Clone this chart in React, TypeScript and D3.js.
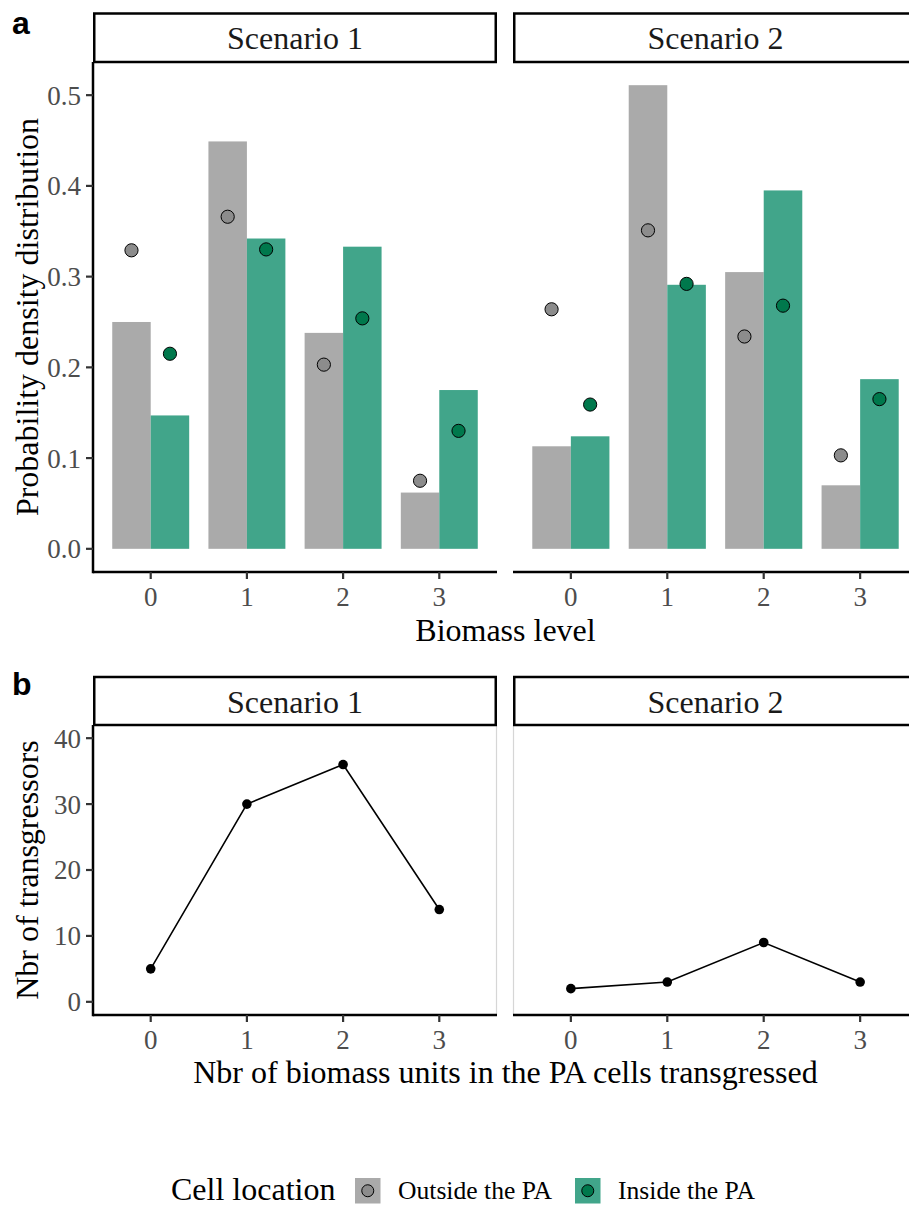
import React from 'react';
import * as d3 from 'd3';

// ---------- data ----------
const levels = [0, 1, 2, 3];
const scenarios = ['Scenario 1', 'Scenario 2'];
const legendTitle = 'Cell location';
const legendLabels = ['Outside the PA', 'Inside the PA'];

// panel a: bars (probability density) per scenario
const barOutsideS1 = [0.25, 0.449, 0.238, 0.062];
const barInsideS1 = [0.147, 0.342, 0.333, 0.175];
const barOutsideS2 = [0.113, 0.511, 0.305, 0.07];
const barInsideS2 = [0.124, 0.291, 0.395, 0.187];
// panel a: points
const ptOutsideS1 = [0.329, 0.366, 0.203, 0.075];
const ptInsideS1 = [0.215, 0.33, 0.254, 0.13];
const ptOutsideS2 = [0.264, 0.351, 0.234, 0.103];
const ptInsideS2 = [0.159, 0.292, 0.268, 0.165];
// panel b: number of transgressors
const transgS1 = [5, 30, 36, 14];
const transgS2 = [2, 3, 9, 3];

const yTicksA = [0, 0.1, 0.2, 0.3, 0.4, 0.5];
const yTicksB = [0, 10, 20, 30, 40];

const barsA = [
  { out: barOutsideS1, ins: barInsideS1, pOut: ptOutsideS1, pIns: ptInsideS1 },
  { out: barOutsideS2, ins: barInsideS2, pOut: ptOutsideS2, pIns: ptInsideS2 },
];
const linesB = [transgS1, transgS2];

// ---------- style ----------
const SERIF = '"Liberation Serif", "Times New Roman", serif';
const SANS = '"Liberation Sans", Arial, sans-serif';
const GRAY_BAR = '#AAAAAA';
const GREEN_BAR = '#41A58A';
const GRAY_PT = '#8C8C8C';
const GREEN_PT = '#00784C';
const TICK_COL = '#4D4D4D';
const TICK_FS = 27;

const W = 909;
const H = 1208;
const panelX: [number, number][] = [
  [93, 497],
  [513, 918],
];

export default function App() {
  // panel a scales
  const aTop = 62;
  const aBot = 572;
  const aStripTop = 13.5;
  const maxA = d3.max([...barOutsideS1, ...barInsideS1, ...barOutsideS2, ...barInsideS2, ...ptOutsideS1, ...ptInsideS1, ...ptOutsideS2, ...ptInsideS2]) as number;
  const padA = maxA * 0.05;
  const yA = d3.scaleLinear().domain([-padA, maxA + padA]).range([aBot, aTop]);

  // panel b scales
  const bTop = 725;
  const bBot = 1015;
  const bStripTop = 677;
  const yB = d3.scaleLinear().domain([-2, 42]).range([bBot, bTop]);

  const xScales = panelX.map((r) => d3.scaleLinear().domain([-0.6, 3.6]).range(r));
  const line = (xs: d3.ScaleLinear<number, number>) =>
    d3
      .line<number>()
      .x((_, i) => xs(levels[i]))
      .y((d) => yB(d));

  const strip = (top: number, bottom: number) =>
    scenarios.map((s, i) => {
      const [x0, x1] = panelX[i];
      return (
        <g key={'strip' + top + i}>
          <rect x={x0 + 1.25} y={top} width={x1 - x0 - 2.5} height={bottom - top} fill="#fff" stroke="#000" strokeWidth={2.5} />
          <text x={(x0 + x1) / 2} y={top + 35.5} textAnchor="middle" fontFamily={SERIF} fontSize={32} fill="#1A1A1A">
            {s}
          </text>
        </g>
      );
    });

  const xAxis = (y: number, labelY: number) =>
    xScales.map((xs, i) => (
      <g key={'xa' + y + i}>
        <line x1={panelX[i][0]} x2={panelX[i][1]} y1={y} y2={y} stroke="#000" strokeWidth={2.5} />
        {levels.map((l) => (
          <g key={l}>
            <line x1={xs(l)} x2={xs(l)} y1={y} y2={y + 7} stroke="#333" strokeWidth={2.2} />
            <text x={xs(l)} y={labelY} textAnchor="middle" fontFamily={SERIF} fontSize={TICK_FS} fill={TICK_COL}>
              {l}
            </text>
          </g>
        ))}
      </g>
    ));

  const yAxis = (ys: d3.ScaleLinear<number, number>, ticks: number[], top: number, bot: number, fmt: (v: number) => string) => (
    <g>
      <line x1={93} x2={93} y1={top} y2={bot + 1.25} stroke="#000" strokeWidth={2.5} />
      {ticks.map((t) => (
        <g key={t}>
          <line x1={86} x2={93} y1={ys(t)} y2={ys(t)} stroke="#333" strokeWidth={2.2} />
          <text x={81} y={ys(t)} dy="0.35em" textAnchor="end" fontFamily={SERIF} fontSize={TICK_FS} fill={TICK_COL}>
            {fmt(t)}
          </text>
        </g>
      ))}
    </g>
  );

  return (
    <div style={{ position: 'absolute', left: 0, top: 0 }}>
      <svg width={W} height={H} viewBox={`0 0 ${W} ${H}`} style={{ display: 'block', background: '#fff' }}>
        <rect x={0} y={0} width={W} height={H} fill="#fff" />

        {/* ---------- panel a ---------- */}
        <text x={12} y={34} fontFamily={SANS} fontWeight="bold" fontSize={32} fill="#000">
          a
        </text>
        {barsA.map((d, i) => {
          const xs = xScales[i];
          return (
            <g key={'bars' + i}>
              {levels.map((l, j) => (
                <g key={l}>
                  <rect x={xs(l - 0.4)} y={yA(d.out[j])} width={xs(l) - xs(l - 0.4)} height={yA(0) - yA(d.out[j])} fill={GRAY_BAR} />
                  <rect x={xs(l)} y={yA(d.ins[j])} width={xs(l + 0.4) - xs(l)} height={yA(0) - yA(d.ins[j])} fill={GREEN_BAR} />
                </g>
              ))}
              {levels.map((l, j) => (
                <g key={'p' + l}>
                  <circle cx={xs(l - 0.2)} cy={yA(d.pOut[j])} r={6.6} fill={GRAY_PT} stroke="#000" strokeWidth={1} />
                  <circle cx={xs(l + 0.2)} cy={yA(d.pIns[j])} r={6.6} fill={GREEN_PT} stroke="#000" strokeWidth={1} />
                </g>
              ))}
            </g>
          );
        })}
        {strip(aStripTop, aTop)}
        {yAxis(yA, yTicksA, aTop, aBot, (v) => d3.format('.1f')(v))}
        {xAxis(aBot, 606)}
        <text
          transform={`translate(38, ${(aTop + aBot) / 2}) rotate(-90)`}
          textAnchor="middle"
          fontFamily={SERIF}
          fontSize={32}
          fill="#000"
        >
          Probability density distribution
        </text>
        <text x={(panelX[0][0] + panelX[1][1]) / 2} y={641} textAnchor="middle" fontFamily={SERIF} fontSize={32} fill="#000">
          Biomass level
        </text>

        {/* ---------- panel b ---------- */}
        <text x={12} y={695} fontFamily={SANS} fontWeight="bold" fontSize={32} fill="#000">
          b
        </text>
        {/* light panel borders */}
        <line x1={panelX[0][1] - 0.5} x2={panelX[0][1] - 0.5} y1={bTop} y2={bBot} stroke="#D6D6D6" strokeWidth={1.2} />
        <line x1={panelX[1][0] + 0.5} x2={panelX[1][0] + 0.5} y1={bTop} y2={bBot} stroke="#D6D6D6" strokeWidth={1.2} />
        {linesB.map((vals, i) => {
          const xs = xScales[i];
          return (
            <g key={'line' + i}>
              <path d={line(xs)(vals) || ''} fill="none" stroke="#000" strokeWidth={1.6} />
              {vals.map((v, j) => (
                <circle key={j} cx={xs(levels[j])} cy={yB(v)} r={4.8} fill="#000" />
              ))}
            </g>
          );
        })}
        {strip(bStripTop, bTop)}
        {yAxis(yB, yTicksB, bTop, bBot, (v) => String(v))}
        {xAxis(bBot, 1049)}
        <text
          transform={`translate(38, ${(bTop + bBot) / 2}) rotate(-90)`}
          textAnchor="middle"
          fontFamily={SERIF}
          fontSize={32}
          fill="#000"
        >
          Nbr of transgressors
        </text>
        <text x={(panelX[0][0] + panelX[1][1]) / 2} y={1083} textAnchor="middle" fontFamily={SERIF} fontSize={32} fill="#000">
          Nbr of biomass units in the PA cells transgressed
        </text>

        {/* ---------- legend ---------- */}
        <text x={171} y={1200} fontFamily={SERIF} fontSize={32} fill="#000">
          {legendTitle}
        </text>
        {[
          { x: 355, fill: GRAY_BAR, pt: GRAY_PT, label: legendLabels[0] },
          { x: 575, fill: GREEN_BAR, pt: GREEN_PT, label: legendLabels[1] },
        ].map((k) => (
          <g key={k.label}>
            <rect x={k.x} y={1178} width={25.5} height={25.5} fill={k.fill} />
            <circle cx={k.x + 12.75} cy={1190.75} r={6} fill={k.pt} stroke="#000" strokeWidth={1} />
            <text x={k.x + 43} y={1199} fontFamily={SERIF} fontSize={25.6} fill="#000">
              {k.label}
            </text>
          </g>
        ))}
      </svg>
    </div>
  );
}
